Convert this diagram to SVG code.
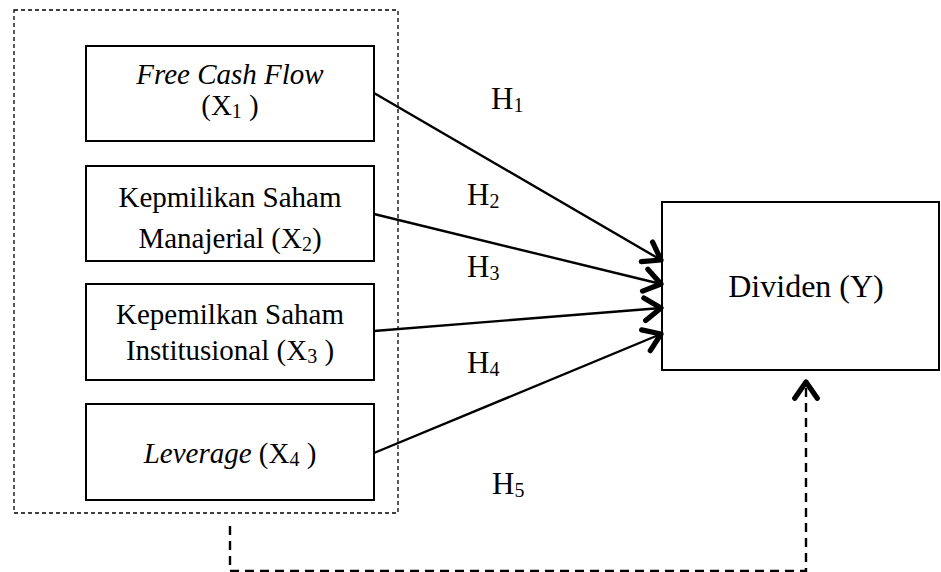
<svg xmlns="http://www.w3.org/2000/svg" width="941" height="572" viewBox="0 0 941 572">
<style>
.box{fill:#fff;stroke:#000;stroke-width:2}
.t{font-family:"Liberation Serif","Times New Roman",serif;font-size:29px;fill:#000;text-anchor:middle}
.h{font-family:"Liberation Serif","Times New Roman",serif;font-size:31px;fill:#000}
.sub{font-size:20px}
.line{fill:none;stroke:#000;stroke-width:2.4}
</style>
<defs>
<marker id="chev" markerUnits="userSpaceOnUse" markerWidth="30" markerHeight="30" viewBox="-16 -12 20 24" refX="0" refY="0" orient="auto">
<polyline points="-13,-9 0,0 -13,9" fill="none" stroke="#000" stroke-width="4.2" stroke-linecap="round" stroke-linejoin="round"/>
</marker>
</defs>
<rect x="14" y="10" width="384" height="503" fill="none" stroke="#000" stroke-width="1.3" stroke-dasharray="4,3"/>
<g id="n1">
<rect class="box" x="86" y="46" width="288" height="95"/>
<text class="t" x="230" y="84" font-style="italic">Free Cash Flow</text>
<text class="t" x="230" y="115">(X<tspan class="sub" dy="3">1</tspan><tspan dy="-3"> )</tspan></text>
</g>
<g id="n2">
<rect class="box" x="86" y="166" width="288" height="95"/>
<text class="t" x="230" y="207">Kepmilikan Saham</text>
<text class="t" x="230" y="248">Manajerial (X<tspan class="sub" dy="3">2</tspan><tspan dy="-3">)</tspan></text>
</g>
<g id="n3">
<rect class="box" x="86" y="284" width="288" height="96"/>
<text class="t" x="230" y="324">Kepemilkan Saham</text>
<text class="t" x="230" y="360">Institusional (X<tspan class="sub" dy="3">3</tspan><tspan dy="-3"> )</tspan></text>
</g>
<g id="n4">
<rect class="box" x="86" y="404" width="288" height="96"/>
<text class="t" x="230" y="463"><tspan font-style="italic">Leverage</tspan> (X<tspan class="sub" dy="3">4</tspan><tspan dy="-3"> )</tspan></text>
</g>
<g id="y">
<rect class="box" x="662" y="202" width="277" height="168"/>
<text class="t" x="806" y="297" style="font-size:32px">Dividen (Y)</text>
</g>
<g id="connectors">
<line class="line" x1="374" y1="93" x2="661" y2="260" marker-end="url(#chev)"/>
<line class="line" x1="374" y1="214" x2="661" y2="284" marker-end="url(#chev)"/>
<line class="line" x1="374" y1="331" x2="661" y2="308" marker-end="url(#chev)"/>
<line class="line" x1="374" y1="453" x2="661" y2="334" marker-end="url(#chev)"/>
<polyline class="line" points="230,526 230,571 806,571 806,382" stroke-dasharray="9,6" marker-end="url(#chev)"/>
</g>
<g id="labels">
<text class="h" x="491" y="109">H<tspan class="sub" dy="3">1</tspan></text>
<text class="h" x="467" y="205">H<tspan class="sub" dy="3">2</tspan></text>
<text class="h" x="467" y="277">H<tspan class="sub" dy="3">3</tspan></text>
<text class="h" x="467" y="373">H<tspan class="sub" dy="3">4</tspan></text>
<text class="h" x="492" y="494">H<tspan class="sub" dy="3">5</tspan></text>
</g>
</svg>
